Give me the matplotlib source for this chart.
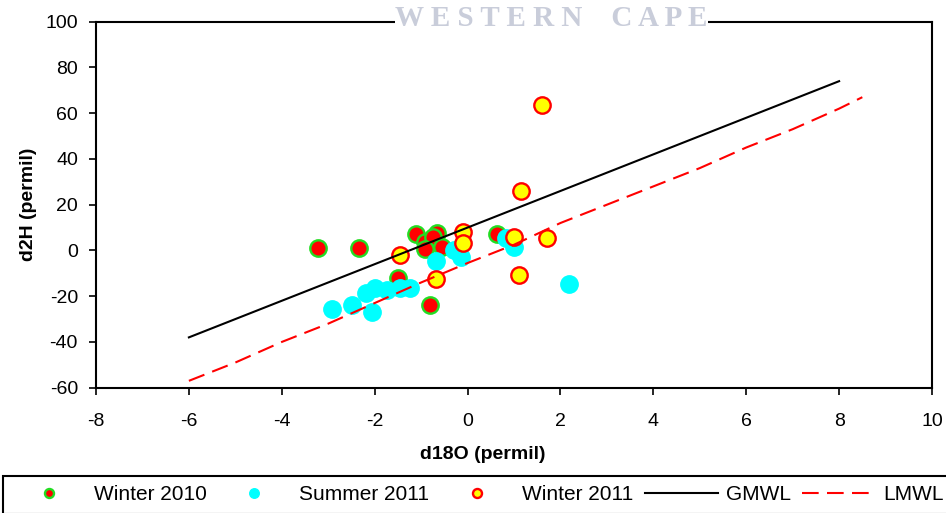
import matplotlib.pyplot as plt

plt.rcParams['font.family'] = ['Liberation Sans', 'DejaVu Sans']
plt.rcParams['axes.unicode_minus'] = False

# d18O / d2H values
w2010_x = [-3.21, -2.33, -1.10, -0.65, -0.91, -0.74, -0.54, -0.91, 0.64, -1.49, -0.80]
w2010_y = [1.1, 1.1, 7.2, 7.7, 3.7, 5.9, 1.5, 0.7, 7.2, -12.0, -23.9]

s2011_x = [-2.91, -2.48, -2.05, -2.18, -1.99, -1.73, -1.45, -1.23, -0.67, -0.15, -0.30, 0.82, 0.99, 2.19]
s2011_y = [-25.6, -23.8, -26.8, -18.8, -16.2, -17.3, -16.2, -16.6, -4.6, -2.8, 0.2, 5.5, 1.5, -14.6]

w2011_x = [-0.09, -0.09, -1.45, -0.67, 0.99, 1.70, 1.10, 1.61, 1.14]
w2011_y = [8.1, 3.3, -2.0, -12.5, 5.9, 5.5, -10.7, 63.5, 26.0]

gmwl_x = [-6, 8]
gmwl_y = [-38, 74]

lmwl_x = [-6, -5, -4, -3, -2, -1, 0, 1, 2, 3, 4, 5, 6, 7, 8, 8.5]
lmwl_y = [-57, -49, -40, -32, -23, -14, -5.5, 2.5, 12, 20, 28, 36, 45, 53, 62, 67]

fig = plt.figure(figsize=(9.46, 5.13), dpi=100)
ax = fig.add_axes([96 / 946, 125.3 / 513, 836 / 946, 366 / 513])

ax.plot(w2010_x, w2010_y, 'o', ls='none', color='#ff0000', mec='#22dd22',
        ms=11.8, mew=1.7, label='Winter 2010', zorder=2)
ax.plot(s2011_x, s2011_y, 'o', ls='none', color='#00ffff', mec='#00ffff',
        ms=12.5, mew=1.0, label='Summer 2011', zorder=3)
ax.plot(w2011_x, w2011_y, 'o', ls='none', color='#ffff00', mec='#ff0000',
        ms=11.8, mew=1.7, label='Winter 2011', zorder=4)
ax.plot(gmwl_x, gmwl_y, color='black', lw=1.5, label='GMWL', zorder=5)
ax.plot(lmwl_x, lmwl_y, color='#ff0000', lw=1.5, dashes=(8, 4), label='LMWL', zorder=5)

ax.set_xlim(-8, 10)
ax.set_ylim(-60, 100)
ax.set_xticks(range(-8, 11, 2))
ax.set_yticks(range(-60, 101, 20))
ax.tick_params(axis='both', direction='out', length=5, width=1.2, labelsize=14)
ax.tick_params(axis='x', pad=13)
ax.tick_params(axis='y', pad=8)
for sp in ax.spines.values():
    sp.set_linewidth(1.5)

ax.set_xlabel('d18O (permil)', fontsize=14, fontweight='bold')
ax.set_ylabel('d2H (permil)', fontsize=14, fontweight='bold')
ax.xaxis.set_label_coords(0.463, -0.16)
ax.yaxis.set_label_coords(-0.071, 0.5)

leg = fig.legend(loc='upper left', bbox_to_anchor=(3 / 946, 1 - 476 / 513),
                 bbox_transform=fig.transFigure, ncol=5, fontsize=15,
                 frameon=True, fancybox=False, edgecolor='black', framealpha=1,
                 borderaxespad=0, borderpad=0.45, handlelength=3.5,
                 handletextpad=0.4, columnspacing=0.55, markerscale=0.55)
leg.get_frame().set_linewidth(1.5)

# watermark from the scanned source
fig.text(0.583, 0.964, 'W E S T E R N    C A P E', family='Liberation Serif',
         fontweight='bold', fontsize=21, color='#c9cdda', ha='center', va='center',
         bbox=dict(facecolor='white', edgecolor='none', pad=0), zorder=10)

fig.savefig('out.png', dpi=100)
